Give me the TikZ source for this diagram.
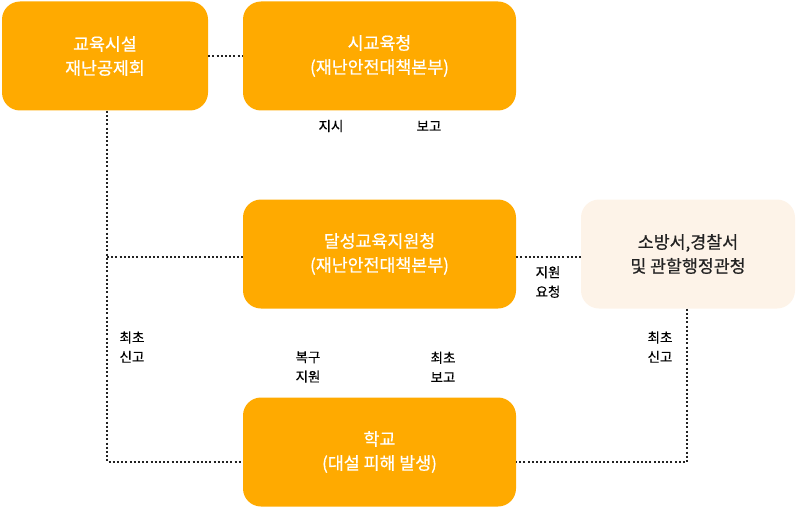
\documentclass[tikz,border=0pt]{standalone}
\usepackage{fontspec}
\newfontfamily\kr[FakeBold=0.6]{Noto Sans CJK KR}
\newfontfamily\krtag[FakeBold=0.3]{Noto Sans CJK KR}
\usetikzlibrary{positioning}
\definecolor{boxorange}{HTML}{FFAA00}
\definecolor{boxcream}{HTML}{FDF3E8}
\definecolor{inkgray}{HTML}{222222}

\tikzset{
    orgbox/.style={rounded corners=18pt, fill=boxorange, text=white, minimum height=109pt,
        align=center, inner sep=0pt, font=\kr\fontsize{17.3}{24}\selectfont},
    outbox/.style={orgbox, fill=boxcream, text=inkgray},
    dotline/.style={draw=inkgray, line width=2pt, dash pattern=on 2pt off 2.2pt},
    tag/.style={align=center, text=black, inner sep=0pt, font=\krtag\fontsize{13.5}{19.5}\selectfont}
}

\begin{document}
\begin{tikzpicture}[x=1pt,y=-1pt]
    \useasboundingbox (0,0) rectangle (810,508);

    \node[orgbox, minimum width=206pt] (jgs) at (105,56) {교육시설\\재난공제회};
    \node[orgbox, minimum width=273pt] (sgy) at (379.5,56) {시교육청\\(재난안전대책본부)};
    \node[orgbox, minimum width=273pt] (dsg) at (379.5,254) {달성교육지원청\\(재난안전대책본부)};
    \node[outbox, minimum width=214pt] (sbs) at (688,254) {소방서,경찰서\\및 관할행정관청};
    \node[orgbox, minimum width=273pt] (hkg) at (379.5,452) {학교\\(대설 피해 발생)};

    \draw[dotline] (jgs.east) -- (sgy.west);
    \draw[dotline] ([xshift=2pt]jgs.south) |- ([yshift=-10pt]hkg.west);
    \draw[dotline] ([xshift=2pt]jgs.south |- dsg.west) ++(0,3) -- ([yshift=-3pt]dsg.west);
    \draw[dotline] ([yshift=-3pt]dsg.east) -- ([yshift=-3pt]sbs.west);
    \draw[dotline] ([xshift=-1pt]sbs.south) |- ([yshift=-10pt]hkg.east);

    \foreach \x/\y/\t/\k in {331/126/지시/0, 429/126/보고/1, 548/282/지원\\요청/2,
        132/347/최초\\신고/3, 308/367/복구\\지원/4, 443/367/최초\\보고/5, 660/347/최초\\신고/6} {
        \node[tag] (t\k) at (\x,\y) {\t};
    }
\end{tikzpicture}
\end{document}
